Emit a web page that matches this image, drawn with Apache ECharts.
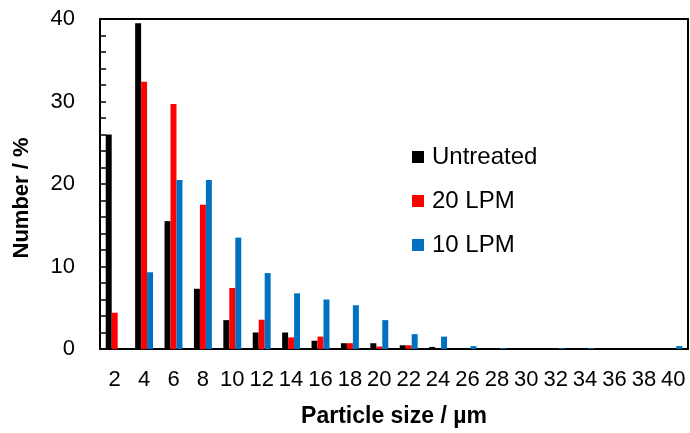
<!DOCTYPE html>
<html>
<head>
<meta charset="utf-8">
<script src="https://cdn.jsdelivr.net/npm/echarts@6/dist/echarts.min.js"></script>
<style>
  html, body { margin: 0; padding: 0; background: #fff; }
  #chart { width: 690px; height: 433px; }
</style>
</head>
<body>
<div id="chart"></div>
<script>
// Particle size classes (µm)
const sizes = ['2', '4', '6', '8', '10', '12', '14', '16', '18', '20',
               '22', '24', '26', '28', '30', '32', '34', '36', '38', '40'];

// Number distribution (%) per size class
const untreated = [26.0, 39.5, 15.5, 7.3, 3.5, 2.0, 2.0, 1.0, 0.7, 0.7,
                   0.45, 0.25, 0, 0, 0.05, 0, 0.05, 0, 0, 0];
const lpm20 = [4.4, 32.4, 29.7, 17.5, 7.4, 3.55, 1.4, 1.5, 0.7, 0.3,
               0.45, 0, 0, 0, 0, 0, 0, 0, 0, 0];
const lpm10 = [0, 9.3, 20.5, 20.5, 13.5, 9.2, 6.75, 6.0, 5.3, 3.5,
               1.8, 1.5, 0.35, 0.1, 0, 0.1, 0.1, 0, 0, 0.35];

const seriesNames = ['Untreated', '20 LPM', '10 LPM'];
const seriesColors = ['#000000', '#FF0000', '#0070C0'];

const font = 'Liberation Sans, Arial, Helvetica, sans-serif';

const chart = echarts.init(document.getElementById('chart'), null, { renderer: 'canvas' });

const makeBar = (name, data, color) => ({
  name: name,
  type: 'bar',
  data: data,
  barGap: '0%',
  barCategoryGap: '39%',
  itemStyle: { color: color },
  emphasis: { disabled: true }
});

chart.setOption({
  animation: false,
  backgroundColor: '#ffffff',
  grid: {
    left: 100, right: 2, top: 19, bottom: 84,
    show: true, borderColor: '#000', borderWidth: 2,
    backgroundColor: 'transparent'
  },
  legend: {
    orient: 'vertical',
    left: 412, top: 145, padding: 0,
    itemWidth: 12, itemHeight: 12, itemGap: 20,
    icon: 'rect',
    textStyle: { fontFamily: font, fontSize: 24, color: '#000', lineHeight: 24, padding: [0, 0, 0, 3] },
    data: seriesNames
  },
  xAxis: {
    type: 'category',
    data: sizes,
    name: 'Particle size / µm',
    nameLocation: 'middle',
    nameGap: 56,
    nameTextStyle: { fontFamily: font, fontSize: 23, fontWeight: 'bold', color: '#000' },
    axisLine: { show: true, lineStyle: { color: '#000', width: 2 } },
    axisTick: { show: false },
    axisLabel: { fontFamily: font, fontSize: 22, color: '#000', margin: 20, interval: 0 },
    splitLine: { show: false }
  },
  yAxis: {
    type: 'value',
    min: 0, max: 40, interval: 10,
    axisLine: { show: true, lineStyle: { color: '#000', width: 2 } },
    axisTick: { show: true, inside: true, length: 6, lineStyle: { color: '#000', width: 1.5 } },
    minorTick: { show: true, splitNumber: 5, length: 6, lineStyle: { color: '#000', width: 1.5 } },
    axisLabel: { fontFamily: font, fontSize: 22, color: '#000', margin: 25 },
    splitLine: { show: false }
  },
  graphic: [{
    type: 'text',
    x: 22, y: 198,
    rotation: Math.PI / 2,
    style: {
      text: 'Number / %',
      fontFamily: font, fontSize: 22, fontWeight: 'bold', fill: '#000',
      align: 'center', verticalAlign: 'middle'
    }
  }],
  series: [
    makeBar(seriesNames[0], untreated, seriesColors[0]),
    makeBar(seriesNames[1], lpm20, seriesColors[1]),
    makeBar(seriesNames[2], lpm10, seriesColors[2])
  ]
});
</script>
</body>
</html>
